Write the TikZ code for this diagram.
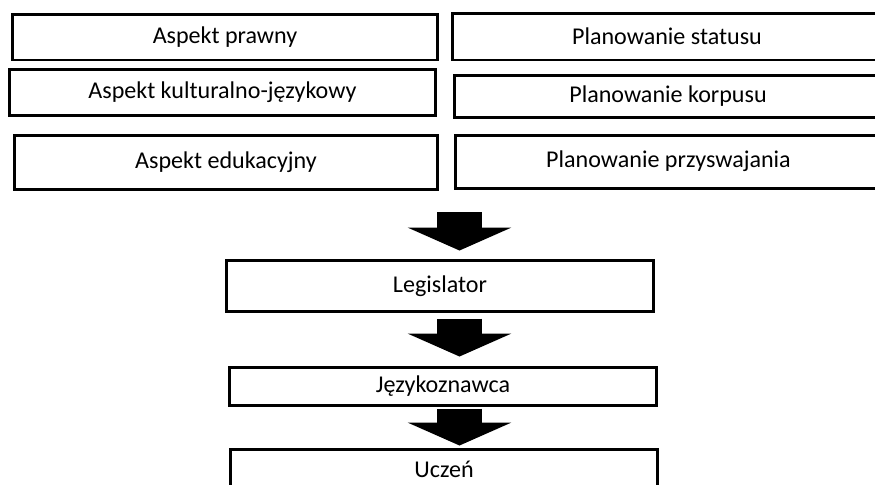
\documentclass[tikz,border=0pt]{standalone}
\usepackage{fontspec}
\setmainfont{Carlito}
\usetikzlibrary{positioning, arrows.meta}

\begin{document}
\begin{tikzpicture}[
				x=0.02cm, y=-0.02cm,
				% Define Node Styles
				box/.style={draw, rectangle, line width=0.06cm, align=center, inner sep=0pt,
					font=\fontsize{13.7}{16}\selectfont, minimum width=8.54cm},
				% Define Arrow Style
				blockarrow/.style={line width=0.9cm, -{Triangle[length=0.46cm, width=2.08cm, line width=0pt]}}
				]
				\clip (0,0) rectangle (875,484);
				\fill[white] (0,0) rectangle (875,484);
				
				% Nodes: aspects (left) and planning (right)
				\node[box, minimum width=8.52cm, minimum height=0.92cm] (AP) at (225,37) {Aspekt prawny};
				\node[box, minimum height=0.92cm] (AK) at (222.5,92) {Aspekt kulturalno-językowy};
				\node[box, minimum width=8.48cm, minimum height=1.08cm] (AE) at (226,162) {Aspekt edukacyjny};
				\node[box, minimum width=8.6cm, minimum height=0.94cm] (PS) at (667,36.5) {Planowanie statusu};
				\node[box, minimum width=8.56cm, minimum height=0.84cm] (PK) at (668,96) {Planowanie korpusu};
				\node[box, minimum height=1.06cm] (PP) at (668.5,161.5) {Planowanie przyswajania};
				
				% Nodes: chain
				\node[box, minimum height=1.02cm] (LEG) at (440,286) {Legislator};
				\node[box, minimum height=0.76cm] (JEZ) at (443,386.5) {Językoznawca};
				\node[box, minimum height=0.78cm] (UCZ) at (444,469) {Uczeń};
				
				% Arrows
				\coordinate (flow) at (459.5,0);
				\draw[blockarrow, shorten <=0.44cm, shorten >=0.17cm] (AE.south -| flow) -- (LEG.north -| flow);
				\draw[blockarrow, shorten <=0.11cm, shorten >=0.19cm] (LEG.south -| flow) -- (JEZ.north -| flow);
				\draw[blockarrow, shorten <=0.03cm, shorten >=0.05cm] (JEZ.south -| flow) -- (UCZ.north -| flow);
				
			\end{tikzpicture}
\end{document}
